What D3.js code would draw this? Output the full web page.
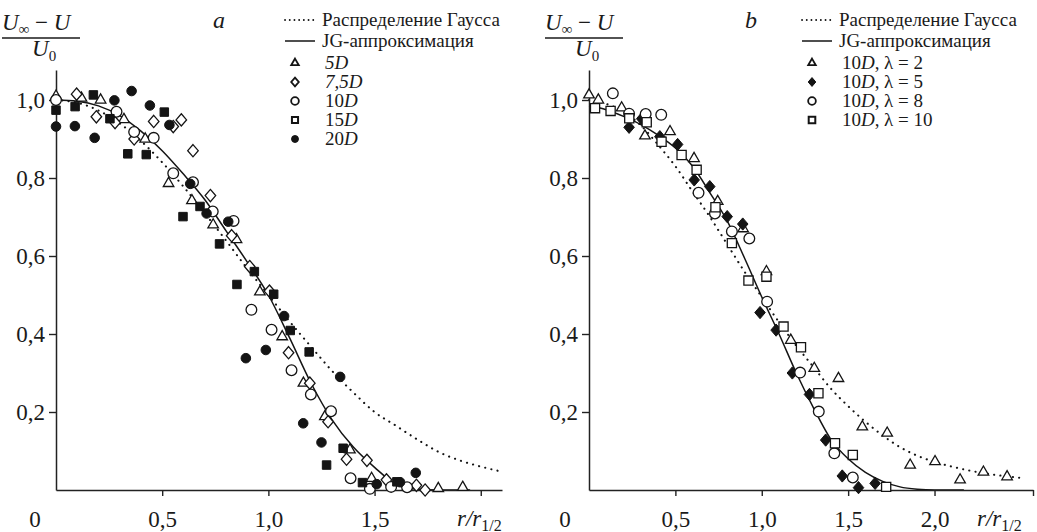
<!DOCTYPE html>
<html><head><meta charset="utf-8">
<script src="https://cdn.jsdelivr.net/npm/d3@7"></script>
<style>body{margin:0;background:#fff}svg{display:block}</style>
</head><body>
<svg id="c" width="1037" height="532"></svg>
<script>
// ---------------- DATA ----------------
const yTickVals = [0.2, 0.4, 0.6, 0.8, 1.0];
const yTickLabels = ["0,2", "0,4", "0,6", "0,8", "1,0"];
const xTickValsA = [0.5, 1.0, 1.5, 2.0];
const xTickLabelsA = ["0,5", "1,0", "1,5", ""];
const xTickValsB = [0.5, 1.0, 1.5, 2.0, 2.57];
const xTickLabelsB = ["0,5", "1,0", "1,5", "2,0", ""];

// panel a: curves [eta, value]
const gaussA = [[0,1],[0.1,0.993],[0.2,0.973],[0.3,0.94],[0.4,0.895],[0.5,0.84],[0.6,0.778],[0.7,0.71],[0.8,0.64],[0.9,0.568],[1.0,0.5],[1.1,0.432],[1.2,0.368],[1.3,0.305],[1.4,0.25],[1.5,0.2],[1.6,0.165],[1.7,0.13],[1.8,0.098],[1.9,0.076],[2.0,0.06],[2.1,0.047]];
const jgA = [[0,1],[0.1,0.997],[0.2,0.985],[0.3,0.96],[0.4,0.92],[0.5,0.87],[0.6,0.81],[0.7,0.745],[0.8,0.665],[0.9,0.585],[1.0,0.5],[1.1,0.39],[1.2,0.275],[1.3,0.18],[1.4,0.11],[1.5,0.058],[1.6,0.015],[1.7,0.002],[1.8,0],[1.95,0]];
// panel a: measurements
const a5D = [[0,1.01],[0.12,1.005],[0.21,1.0],[0.32,0.95],[0.42,0.9],[0.53,0.786],[0.64,0.742],[0.74,0.68],[0.85,0.642],[0.96,0.508],[1.065,0.393],[1.165,0.274],[1.266,0.188],[1.384,0.103],[1.486,0.03],[1.8,0.004],[1.915,0.007]];
const a75D = [[0.097,1.015],[0.19,0.957],[0.278,0.942],[0.368,0.9],[0.46,0.945],[0.552,0.932],[0.59,0.949],[0.645,0.87],[0.727,0.755],[0.827,0.652],[0.912,0.573],[1.005,0.51],[1.095,0.352],[1.195,0.274],[1.281,0.175],[1.368,0.079],[1.464,0.076],[1.556,0.026],[1.697,0.012],[1.738,0.0]];
const a10D = [[0,1.0],[0.285,0.97],[0.368,0.918],[0.46,0.903],[0.552,0.812],[0.645,0.789],[0.738,0.714],[0.836,0.69],[0.92,0.462],[1.015,0.411],[1.109,0.307],[1.2,0.245],[1.295,0.202],[1.387,0.03],[1.478,0.003],[1.578,0.008],[1.653,0.007]];
const a15D = [[0,0.974],[0.09,0.983],[0.176,1.013],[0.254,0.952],[0.338,0.862],[0.425,0.86],[0.51,0.969],[0.598,0.701],[0.678,0.727],[0.77,0.631],[0.852,0.527],[0.934,0.56],[1.025,0.502],[1.103,0.409],[1.192,0.354],[1.352,0.107],[1.274,0.064],[1.443,0.019],[1.605,0.021]];
const a20D = [[0,0.932],[0.089,0.933],[0.182,0.903],[0.275,0.999],[0.356,1.023],[0.442,0.986],[0.534,0.936],[0.632,0.785],[0.709,0.709],[0.811,0.688],[0.894,0.338],[0.988,0.359],[1.074,0.446],[1.164,0.171],[1.25,0.122],[1.338,0.29],[1.51,0.015],[1.62,0.02],[1.694,0.044]];

// panel b: curves
const gaussB = [[0,1],[0.1,0.99],[0.2,0.97],[0.3,0.935],[0.4,0.885],[0.5,0.83],[0.6,0.765],[0.7,0.7],[0.8,0.63],[0.9,0.56],[1.0,0.495],[1.1,0.43],[1.2,0.37],[1.3,0.315],[1.4,0.26],[1.5,0.215],[1.6,0.175],[1.7,0.14],[1.8,0.11],[1.9,0.088],[2.0,0.072],[2.1,0.06],[2.2,0.05],[2.3,0.042],[2.4,0.036],[2.5,0.031]];
const jgB = [[0,0.985],[0.1,0.975],[0.2,0.958],[0.3,0.937],[0.4,0.91],[0.5,0.877],[0.6,0.83],[0.7,0.762],[0.8,0.69],[0.9,0.595],[1.0,0.495],[1.1,0.4],[1.2,0.3],[1.3,0.21],[1.4,0.13],[1.5,0.08],[1.6,0.045],[1.7,0.022],[1.8,0.008],[1.9,0.002],[2.0,0],[2.17,0]];
// panel b: measurements
const bL2 = [[0,1.013],[0.054,1.0],[0.189,0.98],[0.324,0.908],[0.469,0.919],[0.608,0.85],[0.745,0.74],[0.892,0.67],[1.027,0.56],[1.168,0.384],[1.304,0.312],[1.444,0.286],[1.582,0.162],[1.726,0.146],[1.859,0.064],[2.003,0.073],[2.148,0.026],[2.283,0.046],[2.42,0.034]];
const bL5 = [[0.232,0.93],[0.305,0.952],[0.41,0.906],[0.513,0.886],[0.609,0.795],[0.699,0.778],[0.8,0.701],[0.89,0.682],[0.99,0.455],[1.083,0.41],[1.177,0.3],[1.276,0.245],[1.37,0.128],[1.466,0.036],[1.56,0.006],[1.656,0.017]];
const bL8 = [[0.138,1.017],[0.232,0.965],[0.328,0.964],[0.418,0.962],[0.634,0.762],[0.729,0.709],[0.827,0.663],[0.928,0.645],[1.031,0.483],[1.222,0.301],[1.33,0.201],[1.42,0.094],[1.527,0.032]];
const bL10 = [[0.035,0.979],[0.125,0.972],[0.233,0.953],[0.334,0.943],[0.42,0.893],[0.536,0.859],[0.623,0.821],[0.732,0.725],[0.827,0.633],[0.923,0.537],[1.027,0.547],[1.126,0.419],[1.227,0.366],[1.328,0.248],[1.424,0.12],[1.527,0.09],[1.72,0.008]];

const curveLabels = ["Распределение Гаусса", "JG-аппроксимация"];
const legendA = [["5","D"],["7,5","D"],["10","D"],["15","D"],["20","D"]];
const legendB = [["10","D",",","λ = 2"],["10","D",",","λ = 5"],["10","D",",","λ = 8"],["10","D",",","λ = 10"]];

// ---------------- DRAWING ----------------
const FONT = "'Liberation Serif','Times New Roman',Times,serif";
const INK = "#141414";
const svg = d3.select("#c");

const diamondType = { draw(ctx, size) { const h = Math.sqrt(size) / 2; const w = h * 0.86;
  ctx.moveTo(0, -h); ctx.lineTo(w, 0); ctx.lineTo(0, h); ctx.lineTo(-w, 0); ctx.closePath(); } };

function symStyle(kind, small) {
  const k = small ? 0.72 : 1;
  switch (kind) {
    case "tri":  return { d: d3.symbol(d3.symbolTriangle, 48 * k * k)(), fill: "#fff", sw: small ? 1.8 : 1.3 };
    case "dia":  return { d: d3.symbol(diamondType, 150 * k * k)(), fill: "#fff", sw: small ? 1.8 : 1.3 };
    case "diaF": return { d: d3.symbol(diamondType, 150 * k * k)(), fill: INK, sw: 1 };
    case "circ": return { d: d3.symbol(d3.symbolCircle, 90 * k * k)(), fill: "#fff", sw: small ? 1.8 : 1.3 };
    case "sq":   return { d: d3.symbol(d3.symbolSquare, 72 * k * k)(), fill: small ? "#fff" : INK, sw: small ? 2 : 1 };
    case "sqO":  return { d: d3.symbol(d3.symbolSquare, 84 * k * k)(), fill: "#fff", sw: small ? 2 : 1.3 };
    case "dot":  return { d: d3.symbol(d3.symbolCircle, 72 * k * k)(), fill: INK, sw: 1 };
  }
}

function drawPanel(cfg) {
  const g = svg.append("g");
  const x = d3.scaleLinear().domain([0, cfg.xMax]).range([cfg.x0, cfg.x1]);
  const y = d3.scaleLinear().domain([0, cfg.yMax]).range([490, 490 - cfg.yMax * 390]);

  // curves
  const line = d3.line().x(d => x(d[0])).y(d => y(d[1])).curve(d3.curveMonotoneX);
  g.append("path").attr("d", line(cfg.gauss)).attr("fill", "none").attr("stroke", INK)
    .attr("stroke-width", 2.1).attr("stroke-dasharray", "0.1 6.2").attr("stroke-linecap", "round");
  g.append("path").attr("d", line(cfg.jg)).attr("fill", "none").attr("stroke", INK).attr("stroke-width", 1.5);

  // axes
  const xa = g.append("g").attr("transform", `translate(0,${y(0)})`)
    .call(d3.axisBottom(x).tickValues(cfg.xTicks).tickFormat((d, i) => cfg.xLabels[i])
      .tickSize(6).tickSizeOuter(0).tickPadding(15));
  const ya = g.append("g").attr("transform", `translate(${x(0)},0)`)
    .call(d3.axisLeft(y).tickValues(yTickVals).tickFormat((d, i) => yTickLabels[i])
      .tickSize(7).tickSizeOuter(0).tickPadding(4));
  [xa, ya].forEach(a => {
    a.selectAll("path.domain").attr("stroke", "#222").attr("stroke-width", 1.5);
    a.selectAll(".tick line").attr("stroke", "#222").attr("stroke-width", 1.4);
    a.selectAll(".tick text").attr("fill", "#1a1a1a").style("font-family", FONT).style("font-size", "23px");
  });

  // points
  cfg.series.forEach(s => {
    const st = symStyle(s.kind, false);
    g.append("g").selectAll("path").data(s.data).join("path")
      .attr("d", st.d)
      .attr("transform", d => `translate(${x(d[0])},${y(d[1])})`)
      .attr("fill", st.fill).attr("stroke", INK).attr("stroke-width", st.sw);
  });

  // origin label
  g.append("text").attr("x", cfg.zeroX).attr("y", 527).attr("text-anchor", "middle")
    .style("font-family", FONT).style("font-size", "23px").attr("fill", "#1a1a1a").text("0");

  // x label r/r1/2
  const xl = g.append("text").attr("x", cfg.xLabelX).attr("y", 526)
    .style("font-family", FONT).style("font-size", "23px").attr("fill", "#1a1a1a");
  xl.append("tspan").style("font-style", "italic").text("r/r");
  xl.append("tspan").attr("dy", 5).style("font-size", "16px").text("1/2");

  // y label fraction
  const fx = cfg.fracX;
  const num = g.append("text").attr("x", fx).attr("y", 30)
    .style("font-family", FONT).style("font-size", "23px").attr("fill", "#1a1a1a");
  num.append("tspan").style("font-style", "italic").text("U");
  num.append("tspan").attr("dy", 4).style("font-size", "15px").text("∞");
  num.append("tspan").attr("dy", -4).text(" − ");
  num.append("tspan").style("font-style", "italic").text("U");
  g.append("line").attr("x1", fx).attr("x2", fx + 78).attr("y1", 38).attr("y2", 38)
    .attr("stroke", "#1a1a1a").attr("stroke-width", 1.3);
  const den = g.append("text").attr("x", fx + 30).attr("y", 56)
    .style("font-family", FONT).style("font-size", "23px").attr("fill", "#1a1a1a");
  den.append("tspan").style("font-style", "italic").text("U");
  den.append("tspan").attr("dy", 5).style("font-size", "15px").text("0");

  // panel letter
  g.append("text").attr("x", cfg.letterX).attr("y", 28).attr("text-anchor", "middle")
    .style("font-family", FONT).style("font-size", "24px").style("font-style", "italic")
    .attr("fill", "#1a1a1a").text(cfg.letter);

  // legend
  const L = g.append("g").style("font-family", FONT).style("font-size", "19px").attr("fill", "#1a1a1a");
  const lx = cfg.legX;
  L.append("line").attr("x1", lx).attr("x2", lx + 30).attr("y1", 20).attr("y2", 20)
    .attr("stroke", INK).attr("stroke-width", 1.8).attr("stroke-dasharray", "0.1 4.6").attr("stroke-linecap", "round");
  L.append("text").attr("x", lx + 37).attr("y", 26).text(curveLabels[0]);
  L.append("line").attr("x1", lx).attr("x2", lx + 30).attr("y1", 41).attr("y2", 41)
    .attr("stroke", INK).attr("stroke-width", 1.5);
  L.append("text").attr("x", lx + 37).attr("y", 47).text(curveLabels[1]);
  cfg.series.forEach((s, i) => {
    const cy = 63 + i * 19;
    const st = symStyle(s.kind, true);
    L.append("path").attr("d", st.d).attr("transform", `translate(${lx + 10},${cy})`)
      .attr("fill", st.fill).attr("stroke", INK).attr("stroke-width", st.sw);
    const t = L.append("text").attr("x", lx + 40).attr("y", cy + 6);
    const parts = cfg.legend[i];
    t.append("tspan").style("font-style", cfg.italicNum && cfg.italicNum[i] ? "italic" : "normal").text(parts[0]);
    t.append("tspan").style("font-style", "italic").text(parts[1]);
    if (parts.length > 2) {
      t.append("tspan").text(parts[2]);
      L.append("text").attr("x", lx + 82).attr("y", cy + 6).text(parts[3]);
    }
  });
}

drawPanel({
  x0: 56, x1: 502, xMax: 2.1, yMax: 1.077,
  xTicks: xTickValsA, xLabels: xTickLabelsA,
  gauss: gaussA, jg: jgA,
  series: [{kind:"tri", data:a5D},{kind:"dia", data:a75D},{kind:"circ", data:a10D},{kind:"sq", data:a15D},{kind:"dot", data:a20D}],
  legend: legendA, italicNum: [true, true, false, false, false],
  zeroX: 35, xLabelX: 457, fracX: 2, letter: "a", letterX: 219, legX: 285
});
drawPanel({
  x0: 589, x1: 1033, xMax: 2.57, yMax: 1.077,
  xTicks: xTickValsB, xLabels: xTickLabelsB,
  gauss: gaussB, jg: jgB,
  series: [{kind:"tri", data:bL2},{kind:"diaF", data:bL5},{kind:"circ", data:bL8},{kind:"sqO", data:bL10}],
  legend: legendB,
  zeroX: 565, xLabelX: 977, fracX: 545, letter: "b", letterX: 751, legX: 802
});
</script></body></html>
